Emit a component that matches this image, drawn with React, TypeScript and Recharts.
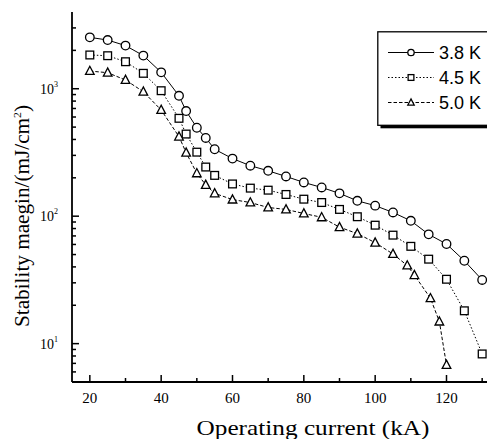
import React from 'react';
import { LineChart, Line, XAxis, YAxis } from 'recharts';

const seriesNames = ['3.8 K', '4.5 K', '5.0 K'];

const currents38 = [20, 25, 30, 35, 40, 45, 47, 50, 52.5, 55, 60, 65, 70, 75, 80, 85, 90, 95, 100, 105, 110, 115, 120, 125, 130];
const margin38 = [2530, 2410, 2180, 1820, 1345, 880, 668, 494, 411, 335, 283, 249, 227, 205, 184, 168, 151, 132, 121, 107, 92, 72, 60.5, 44.7, 31.6];

const currents45 = [20, 25, 30, 35, 40, 45, 47, 50, 52.5, 55, 60, 65, 70, 75, 80, 85, 90, 95, 100, 105, 110, 115, 120, 125, 130];
const margin45 = [1840, 1816, 1629, 1321, 965, 586, 441, 318, 243, 209, 179, 166, 160, 148, 136, 128, 113, 99, 85, 71, 58, 46, 32, 18.1, 8.3];

const currents50 = [20, 25, 30, 35, 40, 45, 47, 50, 52.5, 55, 60, 65, 70, 75, 80, 85, 90, 95, 100, 105, 109, 111, 115.5, 118, 120];
const margin50 = [1377, 1336, 1171, 948, 681, 421, 315, 217, 176, 151, 135, 128, 117, 113, 105, 98, 82, 73, 62, 50.5, 41, 34.5, 22.7, 14.9, 6.8];

const xTicks = [20, 30, 40, 50, 60, 70, 80, 90, 100, 110, 120, 130];
const xLabels = [20, 40, 60, 80, 100, 120];
const yTicks = [5, 6, 7, 8, 9, 10, 20, 30, 40, 50, 60, 70, 80, 90, 100, 200, 300, 400, 500, 600, 700, 800, 900, 1000, 2000, 3000];
const yDecades = [10, 100, 1000];

const toData = (xs: number[], ys: number[]) => xs.map((c, i) => ({ current: c, margin: ys[i] }));
const data38 = toData(currents38, margin38);
const data45 = toData(currents45, margin45);
const data50 = toData(currents50, margin50);

const SERIF = "'Liberation Serif', 'Times New Roman', serif";
const SANS = "'Liberation Sans', Arial, sans-serif";

type Shape = 'circle' | 'square' | 'triangle';
const shapes: Shape[] = ['circle', 'square', 'triangle'];
const dashes = [undefined, '1.5 2', '3.5 2'];

const Marker = ({ shape, cx, cy, s }: { shape: Shape; cx: number; cy: number; s: number }) => {
  if (shape === 'circle') return <circle cx={cx} cy={cy} r={s} fill="#fff" stroke="#000" strokeWidth={1.3} />;
  if (shape === 'square')
    return <rect x={cx - s * 0.9} y={cy - s * 0.9} width={s * 1.8} height={s * 1.8} fill="#fff" stroke="#000" strokeWidth={1.3} />;
  return (
    <polygon
      points={`${cx},${cy - s * 1.1} ${cx - s},${cy + s * 0.8} ${cx + s},${cy + s * 0.8}`}
      fill="#fff"
      stroke="#000"
      strokeWidth={1.3}
    />
  );
};

const makeDot = (shape: Shape) => (props: any) => {
  const { cx, cy, index } = props;
  if (cx == null || cy == null) return <g key={`${shape}-${index}`} />;
  return (
    <g key={`${shape}-${index}`}>
      <Marker shape={shape} cx={cx} cy={cy} s={4.3} />
    </g>
  );
};

const XTick = (props: any) => {
  const { x, y, payload } = props;
  const v = payload.value;
  const major = v % 20 === 0;
  return (
    <g>
      <line x1={x} x2={x} y1={y} y2={y - (major ? 7 : 4)} stroke="#000" strokeWidth={1.5} />
      {xLabels.includes(v) && (
        <text x={x} y={y + 21} textAnchor="middle" fontFamily={SERIF} fontSize={15} fill="#000">
          {v}
        </text>
      )}
    </g>
  );
};

const YTick = (props: any) => {
  const { y, payload } = props;
  const x = 64;
  const v = payload.value;
  const dec = yDecades.includes(v);
  const exp = Math.round(Math.log10(v));
  return (
    <g>
      <rect x={x} y={y - 0.75} width={dec ? 7 : 4} height={1.5} fill="#000" />
      {dec && (
        <text x={x - 14} y={y + 5} textAnchor="end" fontFamily={SERIF} fontSize={14} fill="#000">
          <tspan>10</tspan>
          <tspan dy={-7} fontSize={8}>
            {exp}
          </tspan>
        </text>
      )}
    </g>
  );
};

const XTitle = () => (
  <text x={305} y={427} textAnchor="middle" fontFamily={SERIF} fontSize={21} fill="#000" textLength={233} lengthAdjust="spacingAndGlyphs">
    Operating current (kA)
  </text>
);

const YTitle = () => (
  <g transform="translate(21,208) rotate(-90)">
    <text x={0} y={0} textAnchor="middle" fontFamily={SERIF} fontSize={20} fill="#000" textLength={222} lengthAdjust="spacingAndGlyphs">
      Stability maegin/(mJ/cm
      <tspan dy={-8} fontSize={11}>2</tspan>
      <tspan dy={8}>)</tspan>
    </text>
  </g>
);

const LegendBox = () => {
  const rows = [21.5, 46.5, 71.5];
  return (
    <svg width={122} height={100} style={{ position: 'absolute', left: 369, top: 23 }}>
      <rect x={3.5} y={3.8} width={114.5} height={93.5} fill="#000" />
      <rect x={0.8} y={0.8} width={114.5} height={93.5} fill="#fff" stroke="#000" strokeWidth={1.3} />
      {seriesNames.map((name, i) => (
        <g key={name}>
          <line x1={11} x2={57} y1={rows[i]} y2={rows[i]} stroke="#000" strokeWidth={1} strokeDasharray={dashes[i]} />
          <Marker shape={shapes[i]} cx={34} cy={rows[i]} s={3.2} />
          <text x={62} y={rows[i] + 6.5} fontFamily={SANS} fontSize={18} fill="#000">
            {name}
          </text>
        </g>
      ))}
    </svg>
  );
};

const axisStyle = { stroke: '#000', strokeWidth: 1.8 };

export default function App() {
  const datasets = [data38, data45, data50];
  return (
    <div style={{ width: 487, height: 431, overflow: 'hidden', position: 'relative', background: '#fff' }}>
      <LineChart width={502} height={431} margin={{ top: 4, right: 10, left: 0, bottom: 0 }}>
        <XAxis
          dataKey="current"
          type="number"
          domain={[15, 135]}
          ticks={xTicks}
          interval={0}
          tick={<XTick />}
          tickSize={0}
          tickMargin={0}
          tickLine={false}
          axisLine={axisStyle}
          height={57}
          allowDataOverflow
          label={{ content: XTitle }}
        />
        <XAxis xAxisId="top" orientation="top" type="number" domain={[15, 135]} tick={false} tickLine={false} height={0} axisLine={axisStyle} />
        <YAxis
          type="number"
          scale="log"
          domain={[5, 4000]}
          ticks={yTicks}
          interval={0}
          tick={<YTick />}
          tickSize={0}
          tickMargin={0}
          tickLine={false}
          axisLine={axisStyle}
          width={64}
          allowDataOverflow
          label={{ content: YTitle }}
        />
        <YAxis yAxisId="right" orientation="right" type="number" domain={[0, 1]} tick={false} tickLine={false} width={0} axisLine={axisStyle} />
        {datasets.map((d, i) => (
          <Line
            key={seriesNames[i]}
            data={d}
            dataKey="margin"
            name={seriesNames[i]}
            type="linear"
            stroke="#000"
            strokeWidth={1}
            strokeDasharray={dashes[i]}
            dot={makeDot(shapes[i])}
            activeDot={false}
            isAnimationActive={false}
          />
        ))}
      </LineChart>
      <LegendBox />
    </div>
  );
}
